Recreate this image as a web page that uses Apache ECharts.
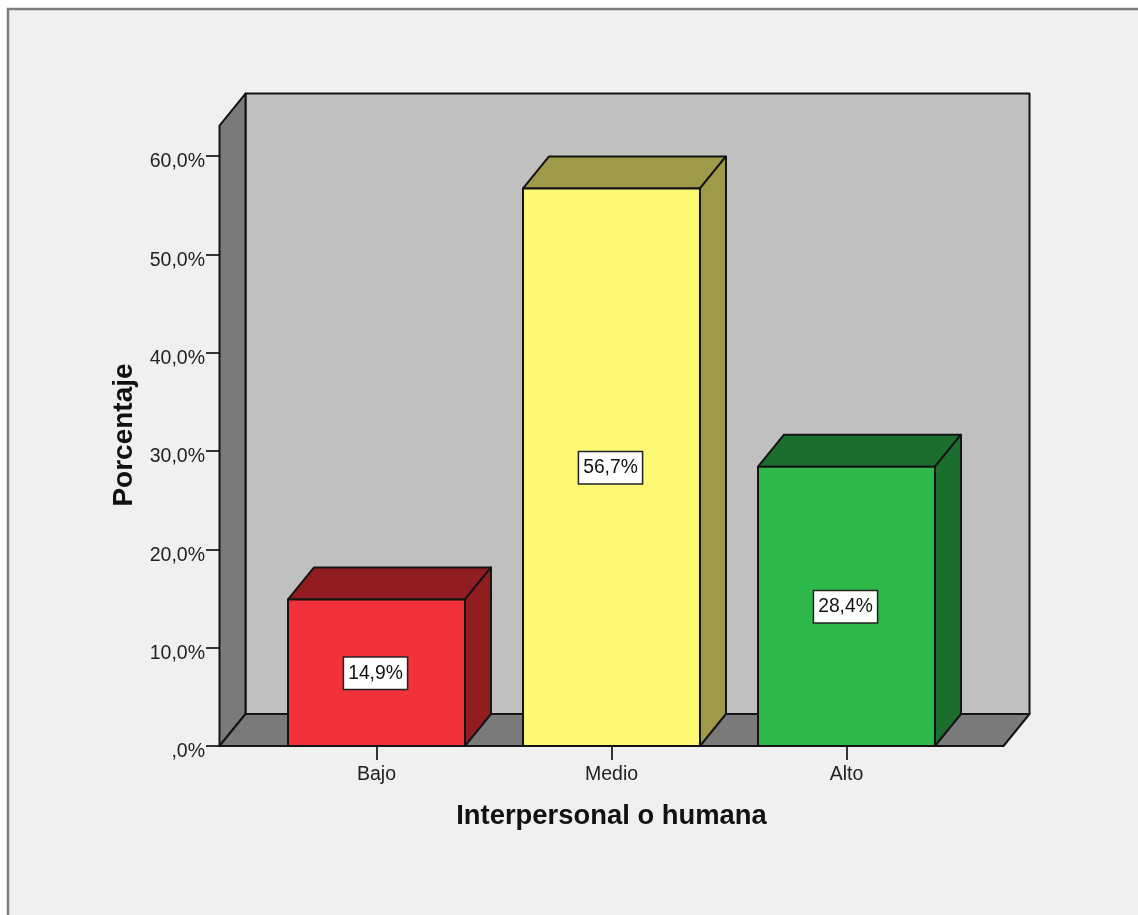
<!DOCTYPE html>
<html>
<head>
<meta charset="utf-8">
<style>
html,body{margin:0;padding:0;background:#fff;overflow:hidden}
#c{width:1138px;height:915px}
</style>
<script src="https://cdn.jsdelivr.net/npm/echarts@6/dist/echarts.min.js"></script>
</head>
<body>
<div id="c"></div>
<script>
const categories = ['Bajo', 'Medio', 'Alto'];
const percentages = [14.9, 56.7, 28.4];
const percentLabels = ['14,9%', '56,7%', '28,4%'];
const yTickValues = [0, 10, 20, 30, 40, 50, 60];
const yTickLabels = [',0%', '10,0%', '20,0%', '30,0%', '40,0%', '50,0%', '60,0%'];
const xTitle = 'Interpersonal o humana';
const yTitle = 'Porcentaje';
const frontColors = ['#f2323a', '#fdf975', '#2fb84a'];
const sideColors = ['#921d20', '#9e9a48', '#1c6e2e'];

const WALL_TOP_VALUE = 63.1;
const DX = 26, DY = -32, BAR_RATIO = 0.753, WALL_PAD = 39.5;
const EDGE = { stroke: '#141414', lineWidth: 2, lineJoin: 'round' };
const FONT = 'Liberation Sans, Arial, sans-serif';

function poly(points, fill) {
  return { type: 'polygon', shape: { points }, style: Object.assign({ fill }, EDGE) };
}

function renderWalls(params, api) {
  const band = api.size([1, 0])[0];
  const x0 = api.coord([0, 0])[0] - band / 2 - WALL_PAD;
  const x1 = api.coord([categories.length - 1, 0])[0] + band / 2 + WALL_PAD;
  const y0 = api.coord([0, 0])[1];
  const yT = api.coord([0, WALL_TOP_VALUE])[1];
  return {
    type: 'group',
    children: [
      poly([[x0 + DX, yT + DY], [x1 + DX, yT + DY], [x1 + DX, y0 + DY], [x0 + DX, y0 + DY]], '#c0c0c0'),
      poly([[x0, yT], [x0 + DX, yT + DY], [x0 + DX, y0 + DY], [x0, y0]], '#7a7a7a'),
      poly([[x0, y0], [x0 + DX, y0 + DY], [x1 + DX, y0 + DY], [x1, y0]], '#7a7a7a')
    ]
  };
}

function renderBar(params, api) {
  const i = api.value(0);
  const band = api.size([1, 0])[0];
  const half = band * BAR_RATIO / 2;
  const base = api.coord([i, 0]);
  const top = api.coord([i, api.value(1)]);
  const l = base[0] - half, r = base[0] + half, b = base[1], t = top[1];
  return {
    type: 'group',
    children: [
      poly([[l, t], [l + DX, t + DY], [r + DX, t + DY], [r, t]], sideColors[i]),
      poly([[r, t], [r + DX, t + DY], [r + DX, b + DY], [r, b]], sideColors[i]),
      poly([[l, t], [r, t], [r, b], [l, b]], frontColors[i]),
      {
        type: 'text',
        z2: 10,
        style: {
          text: percentLabels[i],
          x: base[0] - 1, y: (t + b) / 2 + 0.5,
          align: 'center', verticalAlign: 'middle',
          font: '19.3px ' + FONT,
          fill: '#111',
          backgroundColor: '#fff',
          borderColor: '#222',
          borderWidth: 1.5,
          padding: [9, 4, 3, 4]
        }
      }
    ]
  };
}

const chart = echarts.init(document.getElementById('c'), null, { renderer: 'canvas' });
chart.setOption({
  animation: false,
  backgroundColor: 'transparent',
  graphic: [{
    type: 'polyline',
    z: -10,
    shape: { points: [[8, 930], [8, 9], [1150, 9], [1150, 930]] },
    style: { fill: '#f0f0f0', stroke: '#7d7d7d', lineWidth: 2.5 }
  }],
  grid: { left: 259, top: 156, width: 705, height: 590, containLabel: false },
  xAxis: {
    type: 'category',
    data: categories,
    name: xTitle,
    nameLocation: 'middle',
    nameGap: 57,
    nameTextStyle: { fontFamily: FONT, fontWeight: 'bold', fontSize: 27.4, color: '#111' },
    axisLine: { show: false },
    axisTick: { show: true, alignWithLabel: true, length: 14, lineStyle: { color: '#333', width: 2 } },
    axisLabel: { fontFamily: FONT, fontSize: 19.5, color: '#222', margin: 19 },
    splitLine: { show: false }
  },
  yAxis: {
    type: 'value',
    min: 0,
    max: 60,
    interval: 10,
    offset: 39,
    name: yTitle,
    nameLocation: 'middle',
    nameGap: 82,
    nameTextStyle: { fontFamily: FONT, fontWeight: 'bold', fontSize: 28, color: '#111', padding: [0, 0, 0, 32] },
    axisLine: { show: false },
    axisTick: { show: true, length: 14, lineStyle: { color: '#333', width: 2 } },
    axisLabel: {
      fontFamily: FONT, fontSize: 19.5, color: '#222', margin: 15,
      verticalAlign: 'top', lineHeight: 12,
      formatter: v => yTickLabels[yTickValues.indexOf(v)]
    },
    splitLine: { show: false }
  },
  series: [
    { type: 'custom', silent: true, clip: false, z: 1, renderItem: renderWalls, data: [[0, 0]], encode: { x: 0, y: 1 } },
    {
      type: 'custom', silent: true, clip: false, z: 2, renderItem: renderBar,
      data: categories.map((c, i) => [i, percentages[i]]), encode: { x: 0, y: 1 }
    }
  ]
});
</script>
</body>
</html>
